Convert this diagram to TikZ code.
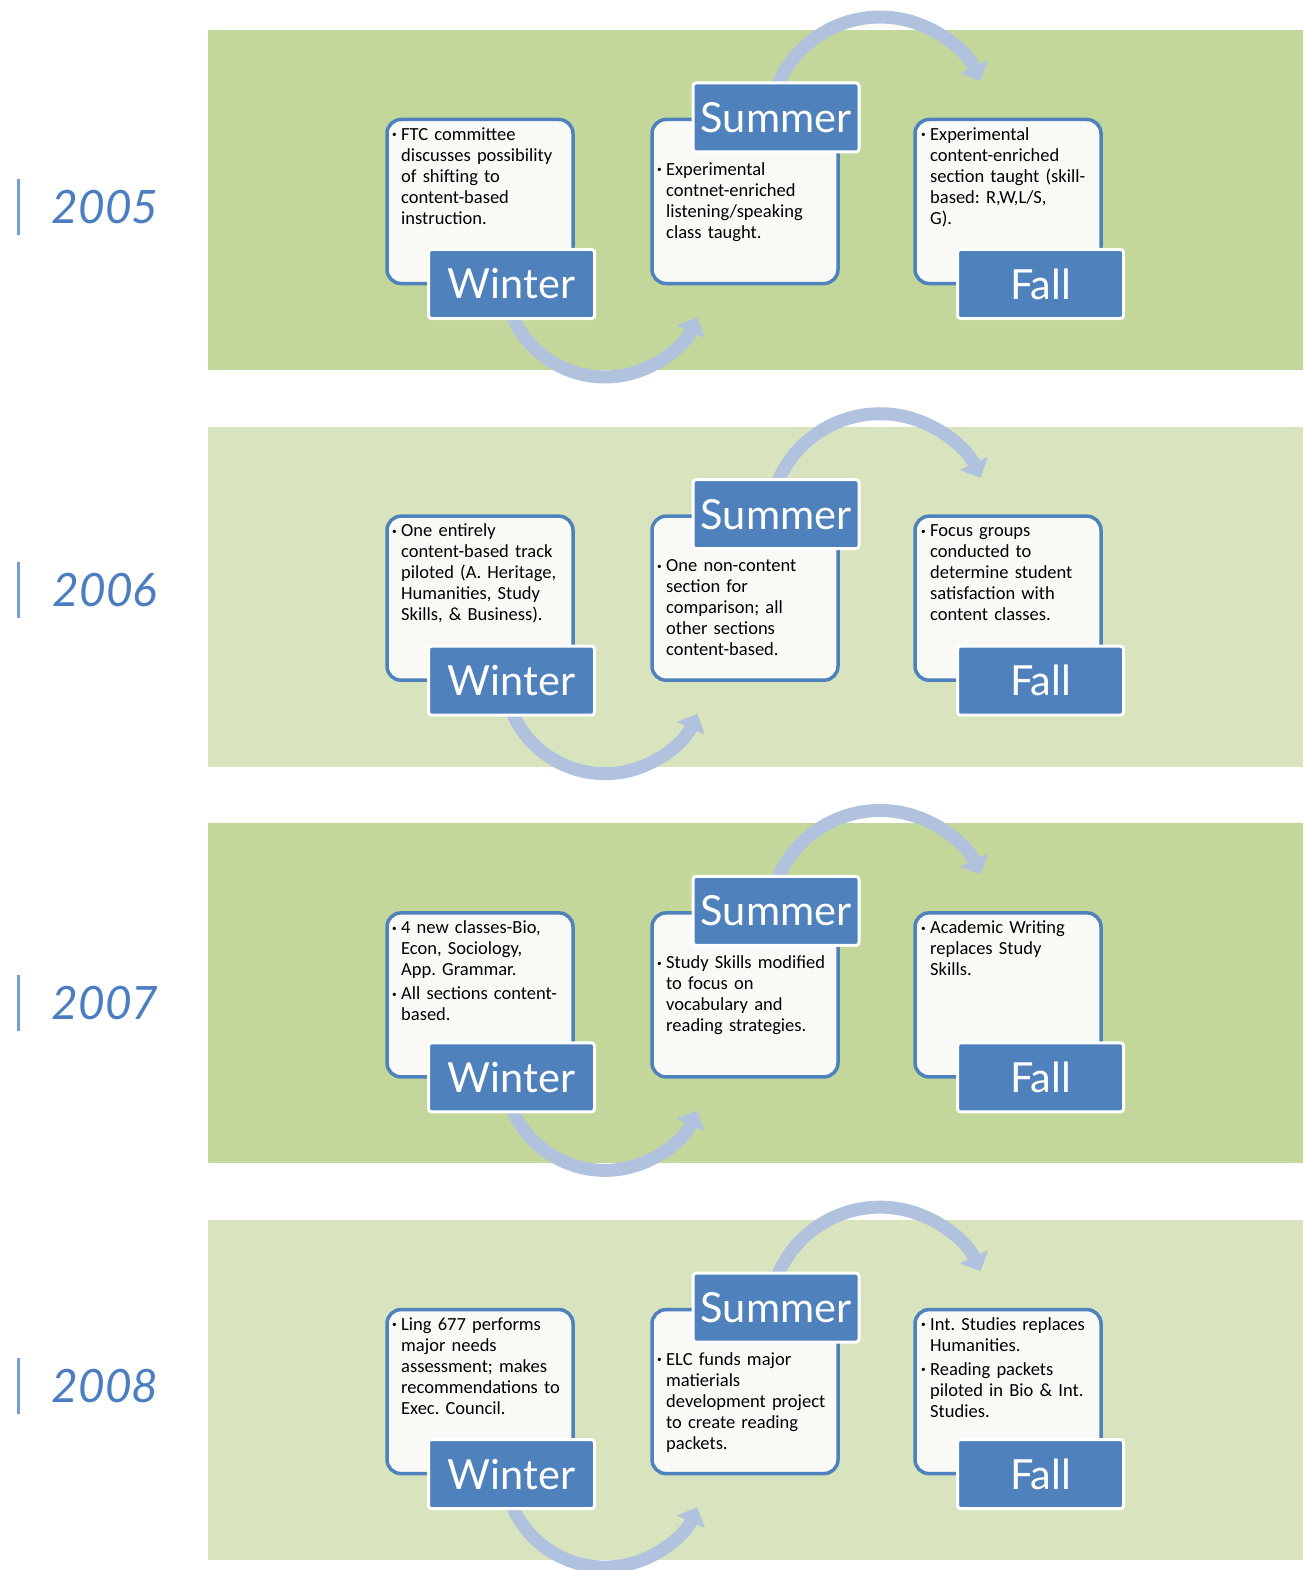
\documentclass[tikz,border=0pt]{standalone}
\usepackage{fontspec}
\usepackage{graphicx}
\setmainfont{Carlito}
\newfontfamily\seasonfont{Lato}
\usetikzlibrary{arrows.meta}
\definecolor{banddark}{RGB}{196,215,155}
\definecolor{bandlight}{RGB}{215,228,189}
\definecolor{boxblue}{RGB}{79,129,189}
\definecolor{boxfill}{RGB}{249,250,246}
\definecolor{cycleblue}{RGB}{176,194,222}
\definecolor{yearblue}{RGB}{74,126,192}
\newcommand{\itm}[1]{\par\hangindent=9pt\hangafter=1\noindent\makebox[9pt][l]{\raisebox{2.5pt}{\scalebox{0.5}{\textbullet}}}#1\par}

\begin{document}
\begin{tikzpicture}[x=1pt, y=-1pt,
    band/.style ={draw=none, minimum width=1095pt, minimum height=340pt, inner sep=0pt},
    textbox/.style ={draw=boxblue, line width=3.5pt, fill=boxfill, rounded corners=14pt,
                     minimum width=186pt, minimum height=164pt, inner sep=0pt},
    season/.style ={draw=white, line width=3pt, fill=boxblue, rounded corners=3pt,
                    minimum width=166pt, minimum height=69pt, inner sep=0pt, text=white,
                    font=\seasonfont\fontsize{41.5}{41.5}\selectfont},
    notes/.style ={anchor=north west, inner sep=0pt, text width=190pt, align=left,
                   font=\fontsize{18.5}{21}\selectfont\frenchspacing\setlength{\parskip}{3pt}},
    cycle/.style ={draw=cycleblue, line width=13pt, -{Triangle[width=30pt,length=16pt]}},
    yearbar/.style ={fill=yearblue!75, draw=none, minimum width=3pt, minimum height=56pt, inner sep=0pt},
    year/.style ={text=yearblue, font=\seasonfont\itshape\fontsize{46}{46}\selectfont}]
   \useasboundingbox (0,0) rectangle (1304,1570);

   % 2005
   \begin{scope}[shift={(0,0)}]
   \node[band, fill=banddark] (band5) at (755,200) {};
   \coordinate (wc5) at (507.4,302.1);
   \coordinate (sc5) at (773.9,95.6);
   \draw[cycle] (wc5) arc[start angle=165, end angle=24, radius=101];
   \draw[cycle] (sc5) arc[start angle=-163, end angle=-25, radius=111];
   \node[textbox] (w5) at (480,201.5) {};
   \node[textbox] (s5) at (745,201.5) {};
   \node[textbox] (f5) at (1008,201.5) {};
   \node[notes] (wn5) at (392,116) {\itm{FTC committee\newline discusses possibility\newline of shifting to\newline content-based\newline instruction.}};
   \node[notes] (sn5) at (657,151) {\itm{Experimental\newline contnet-enriched\newline listening/speaking\newline class taught.}};
   \node[notes] (fn5) at (921,116) {\itm{Experimental\newline content-enriched\newline section taught (skill-\newline based: R,W,L/S,\newline G).}};
   \node[season] (wl5) at (511.5,284) {Winter};
   \node[season] (sl5) at (776,117.5) {Summer};
   \node[season] (fl5) at (1040.5,284) {Fall};
   \end{scope}

   % 2006
   \begin{scope}[shift={(0,396.7)}]
   \node[band, fill=bandlight] (band6) at (755,200) {};
   \coordinate (wc6) at (507.4,302.1);
   \coordinate (sc6) at (773.9,95.6);
   \draw[cycle] (wc6) arc[start angle=165, end angle=24, radius=101];
   \draw[cycle] (sc6) arc[start angle=-163, end angle=-25, radius=111];
   \node[textbox] (w6) at (480,201.5) {};
   \node[textbox] (s6) at (745,201.5) {};
   \node[textbox] (f6) at (1008,201.5) {};
   \node[notes] (wn6) at (392,116) {\itm{One entirely\newline content-based track\newline piloted (A. Heritage,\newline Humanities, Study\newline Skills, \& Business).}};
   \node[notes] (sn6) at (657,151) {\itm{One non-content\newline section for\newline comparison; all\newline other sections\newline content-based.}};
   \node[notes] (fn6) at (921,116) {\itm{Focus groups\newline conducted to\newline determine student\newline satisfaction with\newline content classes.}};
   \node[season] (wl6) at (511.5,284) {Winter};
   \node[season] (sl6) at (776,117.5) {Summer};
   \node[season] (fl6) at (1040.5,284) {Fall};
   \end{scope}

   % 2007
   \begin{scope}[shift={(0,793.4)}]
   \node[band, fill=banddark] (band7) at (755,200) {};
   \coordinate (wc7) at (507.4,302.1);
   \coordinate (sc7) at (773.9,95.6);
   \draw[cycle] (wc7) arc[start angle=165, end angle=24, radius=101];
   \draw[cycle] (sc7) arc[start angle=-163, end angle=-25, radius=111];
   \node[textbox] (w7) at (480,201.5) {};
   \node[textbox] (s7) at (745,201.5) {};
   \node[textbox] (f7) at (1008,201.5) {};
   \node[notes] (wn7) at (392,116) {\itm{4 new classes-Bio,\newline Econ, Sociology,\newline App. Grammar.}\itm{All sections content-\newline based.}};
   \node[notes] (sn7) at (657,151) {\itm{Study Skills modified\newline to focus on\newline vocabulary and\newline reading strategies.}};
   \node[notes] (fn7) at (921,116) {\itm{Academic Writing\newline replaces Study\newline Skills.}};
   \node[season] (wl7) at (511.5,284) {Winter};
   \node[season] (sl7) at (776,117.5) {Summer};
   \node[season] (fl7) at (1040.5,284) {Fall};
   \end{scope}

   % 2008
   \begin{scope}[shift={(0,1190.1)}]
   \node[band, fill=bandlight] (band8) at (755,200) {};
   \coordinate (wc8) at (507.4,302.1);
   \coordinate (sc8) at (773.9,95.6);
   \draw[cycle] (wc8) arc[start angle=165, end angle=24, radius=101];
   \draw[cycle] (sc8) arc[start angle=-163, end angle=-25, radius=111];
   \node[textbox] (w8) at (480,201.5) {};
   \node[textbox] (s8) at (745,201.5) {};
   \node[textbox] (f8) at (1008,201.5) {};
   \node[notes] (wn8) at (392,116) {\itm{Ling 677 performs\newline major needs\newline assessment; makes\newline recommendations to\newline Exec. Council.}};
   \node[notes] (sn8) at (657,151) {\itm{ELC funds major\newline matierials\newline development project\newline to create reading\newline packets.}};
   \node[notes] (fn8) at (921,116) {\itm{Int. Studies replaces\newline Humanities.}\itm{Reading packets\newline piloted in Bio \& Int.\newline Studies.}};
   \node[season] (wl8) at (511.5,284) {Winter};
   \node[season] (sl8) at (776,117.5) {Summer};
   \node[season] (fl8) at (1040.5,284) {Fall};
   \end{scope}

   % years
   \node[yearbar] (bar5) at (18,207) {};
   \node[year] (y5) at (105,207) {2005};
   \node[yearbar] (bar6) at (18,590) {};
   \node[year] (y6) at (105,590) {2006};
   \node[yearbar] (bar7) at (18,1003) {};
   \node[year] (y7) at (105,1003) {2007};
   \node[yearbar] (bar8) at (18,1386) {};
   \node[year] (y8) at (105,1386) {2008};
\end{tikzpicture}
\end{document}
